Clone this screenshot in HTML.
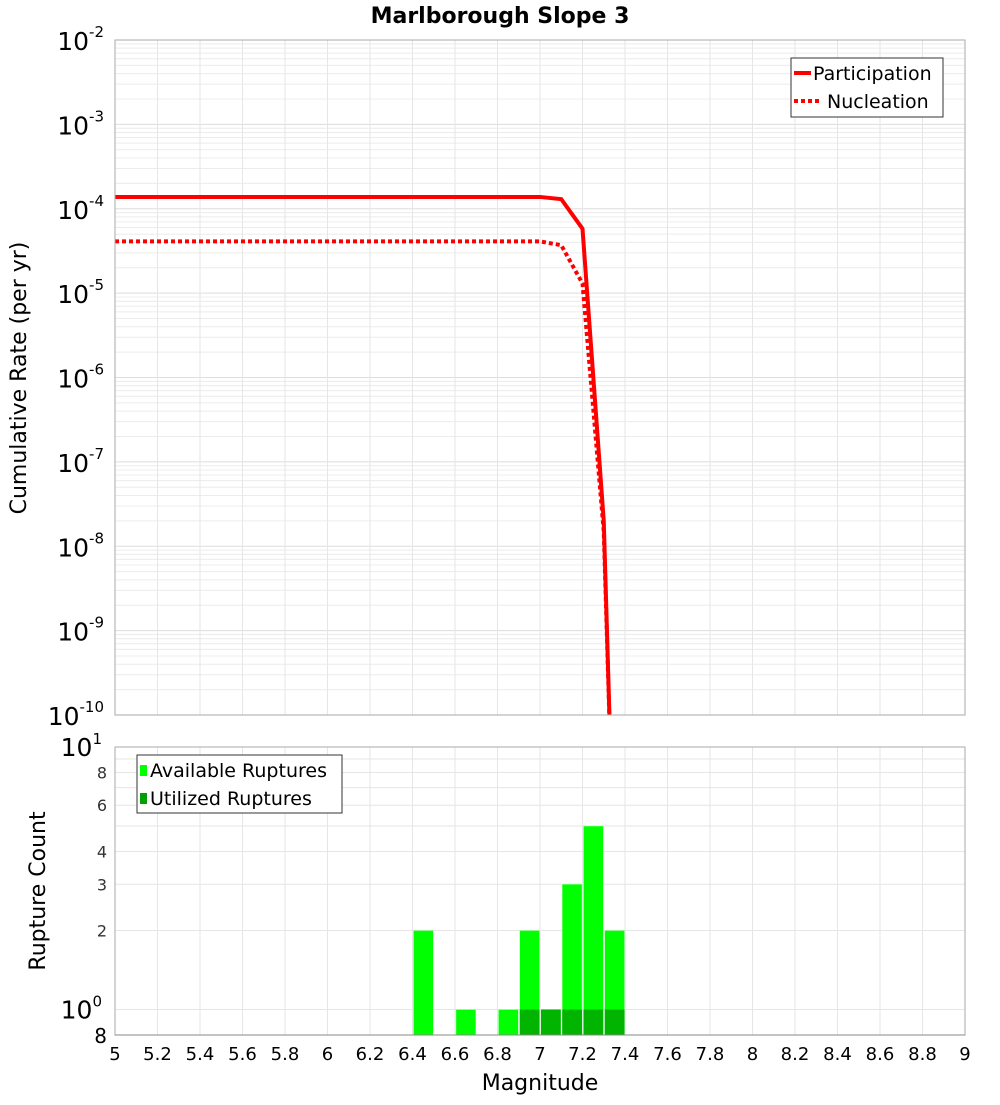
<!DOCTYPE html>
<html><head><meta charset="utf-8"><style>
body{margin:0;background:#fff;width:1000px;height:1100px;overflow:hidden;font-family:"Liberation Sans","DejaVu Sans",sans-serif}
</style></head><body>
<svg id="c" width="1000" height="1100" xmlns="http://www.w3.org/2000/svg" font-family="DejaVu Sans, Liberation Sans, sans-serif">
<text x="500" y="23" text-anchor="middle" font-size="22" font-weight="bold">Marlborough Slope 3</text>
<g id="topg"></g>
<g id="botg"></g>
<text transform="translate(26,378) rotate(-90)" text-anchor="middle" font-size="22">Cumulative Rate (per yr)</text>
<text transform="translate(45,891) rotate(-90)" text-anchor="middle" font-size="22">Rupture Count</text>
<text x="540" y="1090" text-anchor="middle" font-size="22">Magnitude</text>
</svg>
<script>
const partMags=[5.0,7.0,7.1,7.2,7.3,7.35];
const partRates=[1.38e-4,1.38e-4,1.3e-4,5.8e-5,2.0e-8,1e-12];
const nuclMags=[5.0,7.0,7.1,7.2,7.3,7.35];
const nuclRates=[4.1e-5,4.1e-5,3.7e-5,1.3e-5,1.5e-8,1e-12];
const binStarts=[6.4,6.6,6.8,6.9,7.0,7.1,7.2,7.3];
const availCounts=[2,1,1,2,1,3,5,2];
const usedStarts=[6.9,7.0,7.1,7.2,7.3];
const usedCounts=[1,1,1,1,1];
const xTicks=[5,5.2,5.4,5.6,5.8,6,6.2,6.4,6.6,6.8,7,7.2,7.4,7.6,7.8,8,8.2,8.4,8.6,8.8,9];
const botTicks=[2,3,4,6,8];

const NS='http://www.w3.org/2000/svg';
const L=115,R=965,T1=40,B1=715,T2=747,B2=1035;
const X=m=>L+(m-5)/4*(R-L);
const Y1=v=>T1+(-2-Math.log10(v))*(B1-T1)/8;
const Y2=v=>T2+(1-Math.log10(v))*(B2-T2)/(1-Math.log10(0.8));
function el(p,tg,a){const e=document.createElementNS(NS,tg);for(const k in a)e.setAttribute(k,a[k]);p.appendChild(e);return e;}
const topG=document.getElementById('topg'),botG=document.getElementById('botg');
for(let d=-10;d<-2;d++)for(let k=1;k<10;k++){const y=Y1(k*Math.pow(10,d));
 const g=el(topG,'line',{x1:L,x2:R,y1:y,y2:y,stroke:k==1?'#ddd':'#ececec','stroke-width':1});
 
 }
xTicks.forEach(m=>{const g=el(topG,'line',{x1:X(m),x2:X(m),y1:T1,y2:B1,stroke:'#e6e6e6'});
 
 
 const h=el(botG,'line',{x1:X(m),x2:X(m),y1:T2,y2:B2,stroke:'#e6e6e6'});
 
 });
for(let d=-10;d<=-2;d++){const tx=el(topG,'text',{x:104,y:Y1(Math.pow(10,d))+10,'text-anchor':'end','font-size':25});
 
 
 tx.innerHTML='10<tspan dy="-13" font-size="15">'+d+'</tspan>';}
const cp=el(topG,'clipPath',{id:'cp'});el(cp,'rect',{x:L,y:T1,width:R-L,height:B1-T1});
function line(ms,vs,dash,name){const p=el(topG,'polyline',{points:ms.map((m,i)=>X(m)+','+Y1(vs[i])).join(' '),fill:'none',stroke:'#f00','stroke-width':4,'clip-path':'url(#cp)'});
 if(dash)p.setAttribute('stroke-dasharray','4,3');
 
 }
line(partMags,partRates,false,'participation-line');
line(nuclMags,nuclRates,true,'nucleation-line');
el(topG,'rect',{x:L,y:T1,width:R-L,height:B1-T1,fill:'none',stroke:'#aaa'});
const lg=el(topG,'g',{});


el(lg,'rect',{x:791,y:58,width:152,height:59,fill:'#fff',stroke:'#333'});
el(lg,'line',{x1:794,x2:811,y1:73,y2:73,stroke:'#f00','stroke-width':4});
el(lg,'line',{x1:794,x2:822,y1:101,y2:101,stroke:'#f00','stroke-width':4,'stroke-dasharray':'4,3'});
el(lg,'text',{x:813,y:80,'font-size':19}).textContent='Participation';
el(lg,'text',{x:827,y:108,'font-size':19}).textContent='Nucleation';
[1,2,3,4,5,6,7,8,9].forEach(v=>{const y=Y2(v);const g=el(botG,'line',{x1:L,x2:R,y1:y,y2:y,stroke:'#e6e6e6'});
 
 });
const bw=(X(5.1)-X(5));
binStarts.forEach((m,i)=>{const r=el(botG,'rect',{x:X(m)+1,y:Y2(availCounts[i]),width:bw-1.5,height:B2-Y2(availCounts[i]),fill:'#00ff00',stroke:'#9f9','stroke-width':0.5});
 
 });
usedStarts.forEach((m,i)=>{const r=el(botG,'rect',{x:X(m)+1,y:Y2(usedCounts[i]),width:bw-1.5,height:B2-Y2(usedCounts[i]),fill:'#00b400'});
 
 });
el(botG,'rect',{x:L,y:T2,width:R-L,height:B2-T2,fill:'none',stroke:'#aaa'});
el(botG,'line',{x1:L,x2:R,y1:B2,y2:B2,stroke:'#888'});
botTicks.forEach(v=>{const tx=el(botG,'text',{x:107,y:Y2(v)+6,'text-anchor':'end','font-size':16,fill:'#333'});
 
 
 tx.textContent=v;});
let t1=el(botG,'text',{x:102,y:Y2(10)+9,'text-anchor':'end','font-size':25});
t1.innerHTML='10<tspan dy="-12" font-size="15">1</tspan>';


let t2=el(botG,'text',{x:102,y:Y2(1)+9,'text-anchor':'end','font-size':25});
t2.innerHTML='10<tspan dy="-12" font-size="15">0</tspan>';


let t3=el(botG,'text',{x:107,y:1043,'text-anchor':'end','font-size':20});
t3.textContent='8';


xTicks.forEach(m=>{const tx=el(botG,'text',{x:X(m),y:1060,'text-anchor':'middle','font-size':18});
 
 
 tx.textContent=String(Math.round(m*10)/10);});
const lb=el(botG,'g',{});


el(lb,'rect',{x:137,y:755,width:205,height:58,fill:'#fff',stroke:'#333'});
el(lb,'rect',{x:140,y:765,width:7,height:11,fill:'#00ff00'});
el(lb,'rect',{x:140,y:793,width:7,height:11,fill:'#00a000'});
el(lb,'text',{x:150,y:777,'font-size':19}).textContent='Available Ruptures';
el(lb,'text',{x:150,y:805,'font-size':19}).textContent='Utilized Ruptures';
</script>
</body></html>
